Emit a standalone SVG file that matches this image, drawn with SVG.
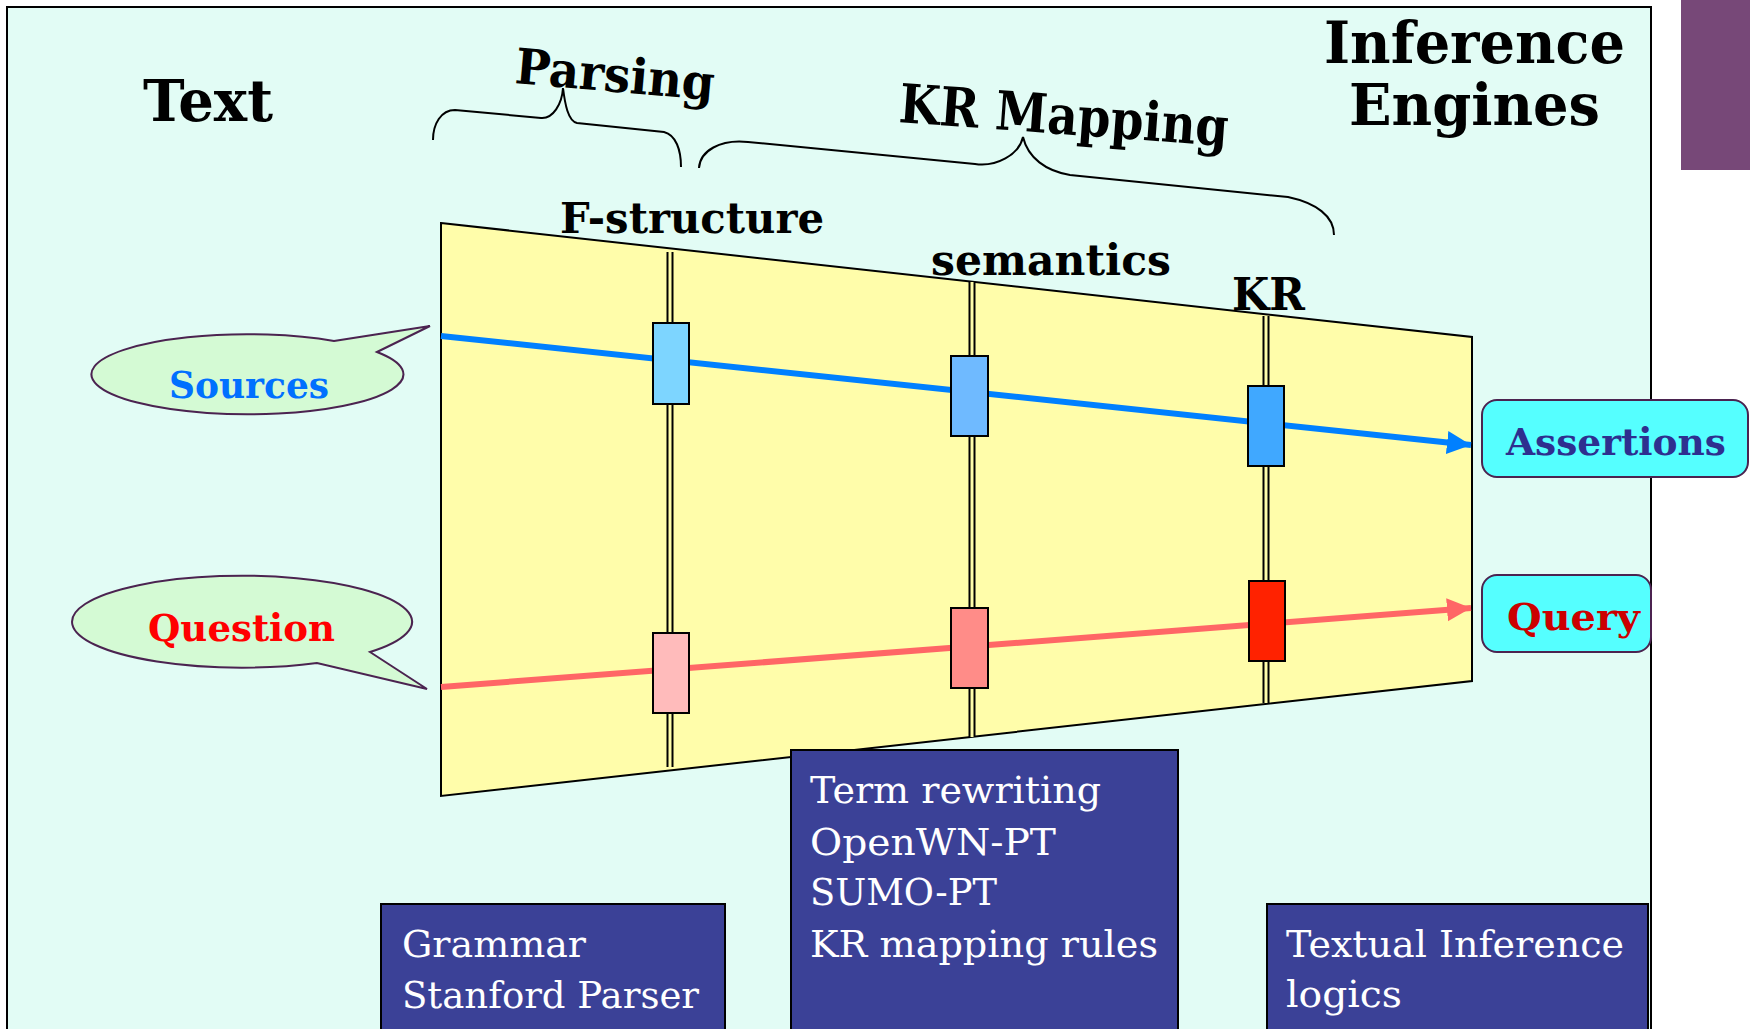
<svg xmlns="http://www.w3.org/2000/svg" width="1750" height="1029" viewBox="0 0 1750 1029">
<style>
.head{font-family:"DejaVu Serif","Liberation Serif",serif;font-weight:bold;fill:#000}
.lbl{font-family:"DejaVu Serif","Liberation Serif",serif;font-weight:bold}
.btxt{font-family:"DejaVu Serif","Liberation Serif",serif;font-size:37px;fill:#fff}
.brace{fill:none;stroke:#000;stroke-width:2}
.bbox{fill:#3B4197;stroke:#000;stroke-width:2}
.callout{fill:#D4FAD4;stroke:#4B2350;stroke-width:2}
.out{fill:#55FFFF;stroke:#4B2350;stroke-width:2}
.rail{stroke:#000;stroke-width:7}
.railin{stroke:#FFFDAA;stroke-width:3}
.stage{stroke:#000;stroke-width:2}
</style>
<defs>
<marker id="ab" markerUnits="userSpaceOnUse" markerWidth="24" markerHeight="24" refX="24" refY="11.5" orient="auto"><path d="M0,0 L24,11.5 L0,23 Z" fill="#0080FF"/></marker>
<marker id="ar" markerUnits="userSpaceOnUse" markerWidth="24" markerHeight="24" refX="24" refY="11.5" orient="auto"><path d="M0,0 L24,11.5 L0,23 Z" fill="#FF6666"/></marker>
</defs>
<rect x="0" y="0" width="1750" height="1029" fill="#fff"/>
<rect id="frame" x="7" y="7" width="1644" height="1040" fill="#E2FCF5" stroke="#000" stroke-width="2"/>
<rect id="corner" x="1681" y="0" width="69" height="170" fill="#774878"/>

<g id="titles">
<text class="head" x="143" y="121" font-size="58" textLength="130" lengthAdjust="spacingAndGlyphs">Text</text>
<text class="head" x="1324" y="63" font-size="58" textLength="301" lengthAdjust="spacingAndGlyphs">Inference</text>
<text class="head" x="1349" y="125" font-size="58" textLength="251" lengthAdjust="spacingAndGlyphs">Engines</text>
<text class="head" x="514" y="83" font-size="49" textLength="200" lengthAdjust="spacingAndGlyphs" transform="rotate(5 514 83)">Parsing</text>
<text class="head" x="898" y="122" font-size="54" textLength="330" lengthAdjust="spacingAndGlyphs" transform="rotate(4.2 898 122)">KR Mapping</text>
<text class="head" x="560" y="233" font-size="43" textLength="264" lengthAdjust="spacingAndGlyphs">F-structure</text>
<text class="head" x="931" y="275" font-size="42" textLength="240" lengthAdjust="spacingAndGlyphs">semantics</text>
<text class="head" x="1232" y="310" font-size="44" textLength="73" lengthAdjust="spacingAndGlyphs">KR</text>
</g>

<g id="braces">
<path class="brace" d="M433,140 C433,124 441,110 455,110 L541,118 C553,119 562,104 563,88 C565,104 568,121 577,123 L664,132 C676,135 681,150 681,167"/>
<path class="brace" d="M699,168 C700,151 720,139 748,142 L975,164 C996,167 1019,155 1023,137 C1028,158 1046,171 1070,175 L1288,197 C1316,203 1334,216 1334,235"/>
</g>

<g id="pipeline">
<polygon points="441,223 1472,337 1472,681 441,796" fill="#FFFDAA" stroke="#000" stroke-width="2"/>
</g>

<g id="rails">
<line class="rail" x1="670" y1="252" x2="670" y2="767"/>
<line class="railin" x1="670" y1="252" x2="670" y2="767"/>
<line class="rail" x1="972" y1="282" x2="972" y2="737"/>
<line class="railin" x1="972" y1="282" x2="972" y2="737"/>
<line class="rail" x1="1266" y1="316" x2="1266" y2="703"/>
<line class="railin" x1="1266" y1="316" x2="1266" y2="703"/>
</g>

<g id="connectors">
<line x1="441" y1="336" x2="1471" y2="445" stroke="#0080FF" stroke-width="6" marker-end="url(#ab)"/>
<line x1="441" y1="687" x2="1471" y2="608" stroke="#FF6666" stroke-width="6" marker-end="url(#ar)"/>
</g>

<g id="stages">
<rect id="fs-src" class="stage" x="653" y="323" width="36" height="81" fill="#7DD5FF"/>
<rect id="fs-q" class="stage" x="653" y="633" width="36" height="80" fill="#FFBBBB"/>
<rect id="sem-src" class="stage" x="951" y="356" width="37" height="80" fill="#6FBAFF"/>
<rect id="sem-q" class="stage" x="951" y="608" width="37" height="80" fill="#FF8C88"/>
<rect id="kr-src" class="stage" x="1248" y="386" width="36" height="80" fill="#40A8FF"/>
<rect id="kr-q" class="stage" x="1249" y="581" width="36" height="80" fill="#FF2200"/>
</g>

<g id="sources">
<path class="callout" d="M334,341 L430,326 L377,352 A156,40 0 1,1 334,341 Z"/>
<text class="lbl" x="169" y="398" font-size="38" fill="#0070FF" textLength="160" lengthAdjust="spacingAndGlyphs">Sources</text>
</g>
<g id="question">
<path class="callout" d="M370,652 L427,689 L317,663 A170,46 0 1,1 370,652 Z"/>
<text class="lbl" x="148" y="641" font-size="38" fill="#FF0000" textLength="187" lengthAdjust="spacingAndGlyphs">Question</text>
</g>
<g id="assertions">
<rect class="out" x="1482" y="400" width="266" height="77" rx="15"/>
<text class="lbl" x="1506" y="455" font-size="38" fill="#2E2F8F" textLength="220" lengthAdjust="spacingAndGlyphs">Assertions</text>
</g>
<g id="query">
<rect class="out" x="1482" y="575" width="169" height="77" rx="15"/>
<text class="lbl" x="1507" y="630" font-size="38" fill="#CC0000" textLength="133" lengthAdjust="spacingAndGlyphs">Query</text>
</g>

<g id="grammar">
<rect class="bbox" x="381" y="904" width="344" height="140"/>
<text class="btxt" x="402" y="957" textLength="184" lengthAdjust="spacingAndGlyphs">Grammar</text>
<text class="btxt" x="402" y="1008" textLength="297" lengthAdjust="spacingAndGlyphs">Stanford Parser</text>
</g>
<g id="mapping">
<rect class="bbox" x="791" y="750" width="387" height="300"/>
<text class="btxt" x="810" y="803" textLength="291" lengthAdjust="spacingAndGlyphs">Term rewriting</text>
<text class="btxt" x="810" y="855" textLength="246" lengthAdjust="spacingAndGlyphs">OpenWN-PT</text>
<text class="btxt" x="810" y="905" textLength="187" lengthAdjust="spacingAndGlyphs">SUMO-PT</text>
<text class="btxt" x="810" y="957" textLength="348" lengthAdjust="spacingAndGlyphs">KR mapping rules</text>
</g>
<g id="inference">
<rect class="bbox" x="1267" y="904" width="381" height="140"/>
<text class="btxt" x="1286" y="957" textLength="338" lengthAdjust="spacingAndGlyphs">Textual Inference</text>
<text class="btxt" x="1286" y="1007" textLength="116" lengthAdjust="spacingAndGlyphs">logics</text>
</g>
</svg>
